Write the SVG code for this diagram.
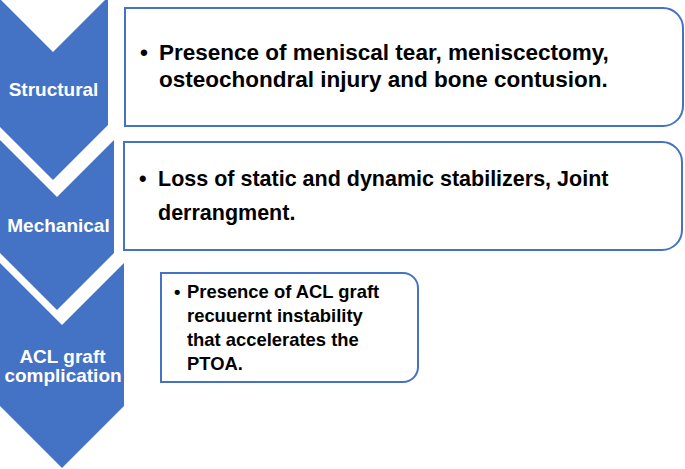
<svg xmlns="http://www.w3.org/2000/svg" width="685" height="469" viewBox="0 0 685 469">
<style>
.chev{fill:#4472C4;}
.box{fill:#FFFFFF;stroke:#4472C4;stroke-width:2;}
.lab{font-family:"Liberation Sans",Arial,sans-serif;font-weight:bold;font-size:19px;fill:#FFFFFF;text-anchor:middle;}
.t{font-family:"Liberation Sans",Arial,sans-serif;font-weight:bold;font-size:21.5px;fill:#000000;}
.t1{font-family:"Liberation Sans",Arial,sans-serif;font-weight:bold;font-size:22.5px;fill:#000000;}
.t3{font-family:"Liberation Sans",Arial,sans-serif;font-weight:bold;font-size:18.4px;fill:#000000;}
</style>
<rect width="685" height="469" fill="#FFFFFF"/>
<g id="chevron-structural">
<polygon class="chev" points="-2,-3 53,52 108,-3 108,125 53,180 -2,125"/>
<text class="lab" x="53.5" y="96">Structural</text>
</g>
<g id="chevron-mechanical">
<polygon class="chev" points="0,140 57,197 114,140 114,253 57,310 0,253"/>
<text class="lab" x="58.5" y="232">Mechanical</text>
</g>
<g id="chevron-acl">
<polygon class="chev" points="0,263 62,325 124,263 124,406 62,468 0,406"/>
<text class="lab" x="62.5" y="363">ACL graft</text>
<text class="lab" x="63" y="382">complication</text>
</g>
<g id="box-structural">
<path class="box" d="M125,8 H663 A20,20 0 0 1 683,28 V106 A20,20 0 0 1 663,126 H125 Z"/>
<text class="t1" x="140" y="60" font-size="25">•</text>
<text class="t1" x="159" y="60">Presence of meniscal tear, meniscectomy,</text>
<text class="t1" x="159" y="87">osteochondral injury and bone contusion.</text>
</g>
<g id="box-mechanical">
<path class="box" d="M124,142 H662 A20,20 0 0 1 682,162 V230 A20,20 0 0 1 662,250 H124 Z"/>
<text class="t" x="139" y="186" font-size="25">•</text>
<text class="t" x="158" y="186">Loss of static and dynamic stabilizers, Joint</text>
<text class="t" x="158" y="220">derrangment.</text>
</g>
<g id="box-acl">
<path class="box" d="M161,273 H403 A15,15 0 0 1 418,288 V367 A15,15 0 0 1 403,382 H161 Z"/>
<text class="t3" x="174" y="298">•</text>
<text class="t3" x="187" y="298">Presence of ACL graft</text>
<text class="t3" x="187" y="322">recuuernt instability</text>
<text class="t3" x="187" y="346">that accelerates the</text>
<text class="t3" x="187" y="370">PTOA.</text>
</g>
<g id="connectors"/>
</svg>
